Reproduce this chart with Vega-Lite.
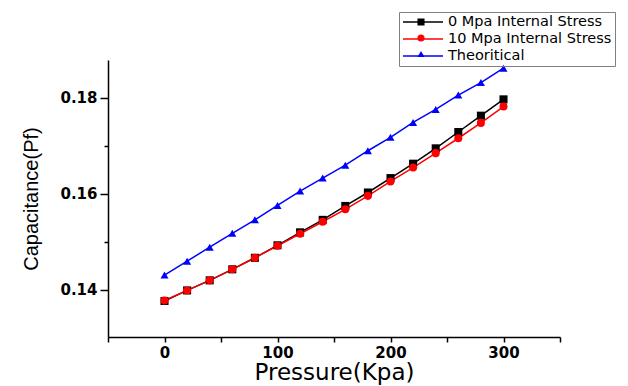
{
  "$schema": "https://vega.github.io/schema/vega-lite/v6.json",
  "width": 452,
  "height": 277,
  "autosize": "none",
  "padding": {"left": 108, "top": 60, "right": 68, "bottom": 49},
  "background": "white",
  "config": {"view": {"stroke": null}},
  "data": {"values": [
    {"p": 0, "c": 0.1377, "s": "0 Mpa Internal Stress"},
    {"p": 20, "c": 0.1399, "s": "0 Mpa Internal Stress"},
    {"p": 40, "c": 0.1420, "s": "0 Mpa Internal Stress"},
    {"p": 60, "c": 0.1443, "s": "0 Mpa Internal Stress"},
    {"p": 80, "c": 0.1467, "s": "0 Mpa Internal Stress"},
    {"p": 100, "c": 0.1493, "s": "0 Mpa Internal Stress"},
    {"p": 120, "c": 0.1520, "s": "0 Mpa Internal Stress"},
    {"p": 140, "c": 0.1546, "s": "0 Mpa Internal Stress"},
    {"p": 160, "c": 0.1575, "s": "0 Mpa Internal Stress"},
    {"p": 180, "c": 0.1603, "s": "0 Mpa Internal Stress"},
    {"p": 200, "c": 0.1633, "s": "0 Mpa Internal Stress"},
    {"p": 220, "c": 0.1663, "s": "0 Mpa Internal Stress"},
    {"p": 240, "c": 0.1695, "s": "0 Mpa Internal Stress"},
    {"p": 260, "c": 0.1729, "s": "0 Mpa Internal Stress"},
    {"p": 280, "c": 0.1763, "s": "0 Mpa Internal Stress"},
    {"p": 300, "c": 0.1797, "s": "0 Mpa Internal Stress"},
    {"p": 0, "c": 0.1378, "s": "10 Mpa Internal Stress"},
    {"p": 20, "c": 0.1399, "s": "10 Mpa Internal Stress"},
    {"p": 40, "c": 0.1420, "s": "10 Mpa Internal Stress"},
    {"p": 60, "c": 0.1443, "s": "10 Mpa Internal Stress"},
    {"p": 80, "c": 0.1467, "s": "10 Mpa Internal Stress"},
    {"p": 100, "c": 0.1492, "s": "10 Mpa Internal Stress"},
    {"p": 120, "c": 0.1517, "s": "10 Mpa Internal Stress"},
    {"p": 140, "c": 0.1542, "s": "10 Mpa Internal Stress"},
    {"p": 160, "c": 0.1568, "s": "10 Mpa Internal Stress"},
    {"p": 180, "c": 0.1596, "s": "10 Mpa Internal Stress"},
    {"p": 200, "c": 0.1626, "s": "10 Mpa Internal Stress"},
    {"p": 220, "c": 0.1655, "s": "10 Mpa Internal Stress"},
    {"p": 240, "c": 0.1685, "s": "10 Mpa Internal Stress"},
    {"p": 260, "c": 0.1716, "s": "10 Mpa Internal Stress"},
    {"p": 280, "c": 0.1748, "s": "10 Mpa Internal Stress"},
    {"p": 300, "c": 0.1782, "s": "10 Mpa Internal Stress"},
    {"p": 0, "c": 0.1431, "s": "Theoritical"},
    {"p": 20, "c": 0.1460, "s": "Theoritical"},
    {"p": 40, "c": 0.1489, "s": "Theoritical"},
    {"p": 60, "c": 0.1518, "s": "Theoritical"},
    {"p": 80, "c": 0.1546, "s": "Theoritical"},
    {"p": 100, "c": 0.1576, "s": "Theoritical"},
    {"p": 120, "c": 0.1606, "s": "Theoritical"},
    {"p": 140, "c": 0.1633, "s": "Theoritical"},
    {"p": 160, "c": 0.1660, "s": "Theoritical"},
    {"p": 180, "c": 0.1690, "s": "Theoritical"},
    {"p": 200, "c": 0.1718, "s": "Theoritical"},
    {"p": 220, "c": 0.1749, "s": "Theoritical"},
    {"p": 240, "c": 0.1776, "s": "Theoritical"},
    {"p": 260, "c": 0.1806, "s": "Theoritical"},
    {"p": 280, "c": 0.1832, "s": "Theoritical"},
    {"p": 300, "c": 0.1862, "s": "Theoritical"}
  ]},
  "encoding": {
    "x": {
      "field": "p", "type": "quantitative",
      "scale": {"domain": [-50, 350], "nice": false, "zero": false},
      "axis": {
        "title": "Pressure(Kpa)",
        "values": [-50, 0, 50, 100, 150, 200, 250, 300, 350],
        "labelExpr": "datum.value % 100 === 0 ? datum.label : ''",
        "grid": false,
        "domainColor": "black", "domainWidth": 1.5,
        "tickColor": "black", "tickWidth": 1.5, "tickSize": 5,
        "labelFont": "DejaVu Sans", "labelFontWeight": "bold", "labelFontSize": 15, "labelColor": "black",
        "labelPadding": 3,
        "titleFont": "DejaVu Sans", "titleFontWeight": "normal", "titleFontSize": 23, "titleColor": "black",
        "titlePadding": 1
      }
    },
    "y": {
      "field": "c", "type": "quantitative",
      "scale": {"domain": [0.1302, 0.1879], "nice": false, "zero": false},
      "axis": {
        "title": "Capacitance(Pf)",
        "values": [0.14, 0.15, 0.16, 0.17, 0.18],
        "format": ".2f",
        "labelExpr": "round(datum.value * 100) % 2 === 0 ? datum.label : ''",
        "grid": false,
        "domainColor": "black", "domainWidth": 1.5,
        "tickColor": "black", "tickWidth": 1.5,
        "tickSize": {"condition": {"test": "round(datum.value * 100) % 2 === 0", "value": 8}, "value": 4},
        "labelFont": "DejaVu Sans", "labelFontWeight": "bold", "labelFontSize": 15, "labelColor": "black",
        "labelPadding": 3,
        "titleFont": "Liberation Sans", "titleFontWeight": "normal", "titleFontSize": 20, "titleColor": "black",
        "titlePadding": 18
      }
    }
  },
  "layer": [
    {
      "mark": {"type": "line", "strokeWidth": 1.5},
      "encoding": {
        "stroke": {
          "field": "s", "type": "nominal",
          "scale": {"domain": ["0 Mpa Internal Stress", "10 Mpa Internal Stress", "Theoritical"], "range": ["#000000", "#ff0000", "#0000ff"]},
          "legend": {
            "title": null,
            "orient": "none",
            "legendX": 291,
            "legendY": -48,
            "padding": 3,
            "strokeColor": "#808080",
            "symbolType": "stroke",
            "symbolSize": 1600,
            "symbolStrokeWidth": 1.5,
            "symbolOpacity": 1,
            "clipHeight": 14,
            "labelFont": "DejaVu Sans",
            "labelFontSize": 14.5,
            "labelColor": "black",
            "labelOffset": 4,
            "labelLimit": 300,
            "rowPadding": 2
          }
        }
      }
    },
    {
      "mark": {"type": "point", "filled": true, "opacity": 1, "size": 65},
      "encoding": {
        "color": {
          "field": "s", "type": "nominal",
          "scale": {"range": ["#000000", "#ff0000", "#0000ff"]},
          "legend": {
            "title": null,
            "orient": "none",
            "legendX": 305.5,
            "legendY": -48,
            "padding": 3,
            "symbolSize": 50,
            "symbolOpacity": 1,
            "clipHeight": 14,
            "labelFontSize": 1,
            "labelOpacity": 0,
            "labelOffset": 1,
            "rowPadding": 2
          }
        },
        "shape": {
          "field": "s", "type": "nominal",
          "scale": {"range": ["square", "circle", "triangle-up"]},
          "legend": null
        }
      }
    }
  ]
}
